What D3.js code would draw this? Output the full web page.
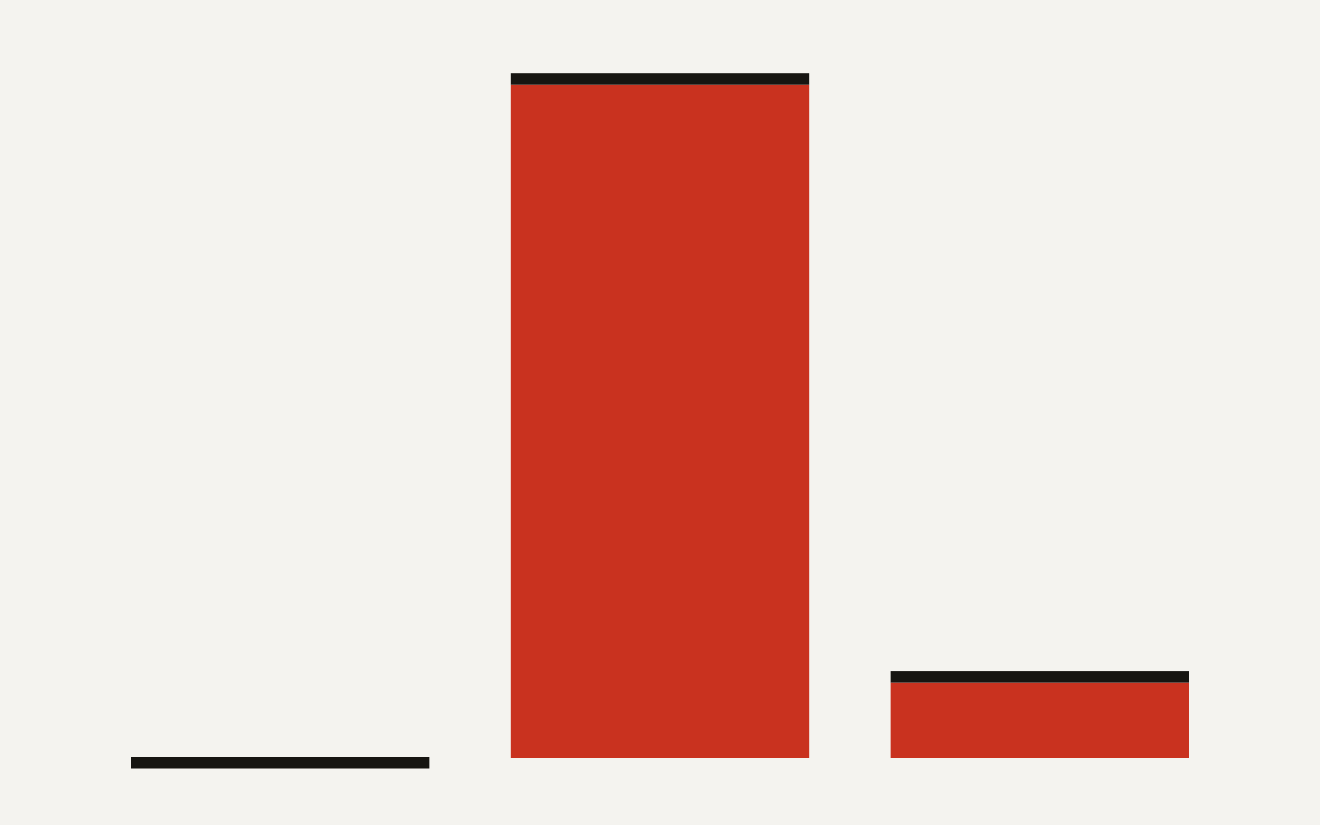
<!DOCTYPE html>
<html>
<head>
<meta charset="utf-8">
<script src="https://cdn.jsdelivr.net/npm/d3@7"></script>
<style>
  html, body { margin: 0; padding: 0; background: #f4f3ef; }
  svg { display: block; }
</style>
</head>
<body>
<div id="chart"></div>
<script>
// data
var categories = ["A", "B", "C"];
var values = [0, 100, 11.2];

var width = 1320,
    height = 825,
    capHeight = 11.5;

var svg = d3.select("#chart")
            .append("svg")
            .attr("width", width)
            .attr("height", height);

svg.append("rect")
   .attr("width", width)
   .attr("height", height)
   .attr("fill", "#f4f3ef");

// scales
var x = d3.scaleBand()
          .domain(categories)
          .range([131, 1189])
          .paddingInner(0.2145)
          .paddingOuter(0);

var y = d3.scaleLinear()
          .domain([0, 100])
          .range([758, 84.7]);

// red bars
svg.selectAll(".bar")
   .data(values)
   .enter()
   .append("rect")
   .attr("class", "bar")
   .attr("x", function(d, i) { return x(categories[i]); })
   .attr("y", function(d) { return y(d); })
   .attr("width", x.bandwidth())
   .attr("height", function(d) { return y(0) - y(d); })
   .attr("fill", "#c9321f");

// black caps on top of each bar (zero value sits on the baseline)
svg.selectAll(".cap")
   .data(values)
   .enter()
   .append("rect")
   .attr("class", "cap")
   .attr("x", function(d, i) { return x(categories[i]); })
   .attr("y", function(d) {
     if (d > 0) {
       return y(d) - capHeight;
     }
     else {
       return y(0) - 1;
     }
   })
   .attr("width", x.bandwidth())
   .attr("height", capHeight)
   .attr("fill", "#161511");
</script>
</body>
</html>
